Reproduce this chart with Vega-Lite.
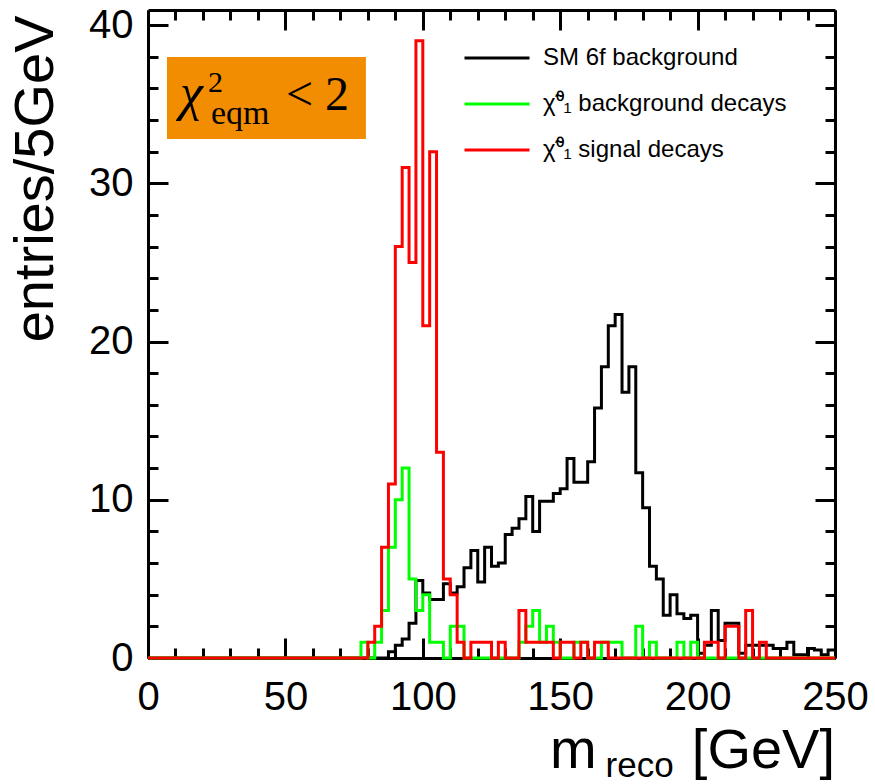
{
  "$schema": "https://vega.github.io/schema/vega-lite/v6.json",
  "width": 687,
  "height": 648,
  "autosize": "none",
  "padding": {"left": 148, "top": 10, "right": 40, "bottom": 126},
  "background": "white",
  "config": {"view": {"stroke": null}, "font": "Liberation Sans"},
  "resolve": {"axis": {"x": "independent", "y": "independent"}},
  "layer": [
    {
      "data": {"values": [{}]},
      "mark": {"type": "rect", "color": "#F28C00"},
      "encoding": {
        "x": {"datum": 6.9, "type": "quantitative",
          "axis": {"orient": "top", "values": [0,10,20,30,40,50,60,70,80,90,100,110,120,130,140,150,160,170,180,190,200,210,220,230,240,250],
            "labels": false, "title": null, "grid": false, "domainWidth": 3, "domainColor": "black", "tickWidth": 3, "tickColor": "black",
            "tickSize": {"condition": {"test": "datum.value % 50 === 0", "value": -20}, "value": -10}}},
        "x2": {"datum": 79.3},
        "y": {"datum": 37.98, "type": "quantitative",
          "axis": {"orient": "right", "values": [0,2,4,6,8,10,12,14,16,18,20,22,24,26,28,30,32,34,36,38,40],
            "labels": false, "title": null, "grid": false, "domainWidth": 3, "domainColor": "black", "tickWidth": 3, "tickColor": "black",
            "tickSize": {"condition": {"test": "datum.value % 10 === 0", "value": -20}, "value": -10}}},
        "y2": {"datum": 32.8}
      }
    },
    {
      "data": {"values": [{}]},
      "mark": {"type": "text", "text": "χ", "font": "Liberation Serif", "fontStyle": "italic", "fontSize": 52, "align": "left", "baseline": "alphabetic", "color": "black"},
      "encoding": {"x": {"datum": 11.6, "type": "quantitative", "axis": null}, "y": {"datum": 34.63, "type": "quantitative", "axis": null}}
    },
    {
      "data": {"values": [{}]},
      "mark": {"type": "text", "text": "2", "font": "Liberation Serif", "fontSize": 30, "align": "left", "baseline": "alphabetic", "color": "black"},
      "encoding": {"x": {"datum": 21.8, "type": "quantitative", "axis": null}, "y": {"datum": 35.77, "type": "quantitative", "axis": null}}
    },
    {
      "data": {"values": [{}]},
      "mark": {"type": "text", "text": "eqm", "font": "Liberation Serif", "fontSize": 34, "align": "left", "baseline": "alphabetic", "color": "black"},
      "encoding": {"x": {"datum": 22.9, "type": "quantitative", "axis": null}, "y": {"datum": 33.75, "type": "quantitative", "axis": null}}
    },
    {
      "data": {"values": [{}]},
      "mark": {"type": "text", "text": "< 2", "font": "Liberation Serif", "fontSize": 48, "align": "left", "baseline": "alphabetic", "color": "black"},
      "encoding": {"x": {"datum": 50.2, "type": "quantitative", "axis": null}, "y": {"datum": 34.63, "type": "quantitative", "axis": null}}
    },
    {
      "data": {"values": [
        {"m":0,"sm":0,"bg":0,"sig":0},{"m":2.5,"sm":0,"bg":0,"sig":0},{"m":5,"sm":0,"bg":0,"sig":0},{"m":7.5,"sm":0,"bg":0,"sig":0},
        {"m":10,"sm":0,"bg":0,"sig":0},{"m":12.5,"sm":0,"bg":0,"sig":0},{"m":15,"sm":0,"bg":0,"sig":0},{"m":17.5,"sm":0,"bg":0,"sig":0},
        {"m":20,"sm":0,"bg":0,"sig":0},{"m":22.5,"sm":0,"bg":0,"sig":0},{"m":25,"sm":0,"bg":0,"sig":0},{"m":27.5,"sm":0,"bg":0,"sig":0},
        {"m":30,"sm":0,"bg":0,"sig":0},{"m":32.5,"sm":0,"bg":0,"sig":0},{"m":35,"sm":0,"bg":0,"sig":0},{"m":37.5,"sm":0,"bg":0,"sig":0},
        {"m":40,"sm":0,"bg":0,"sig":0},{"m":42.5,"sm":0,"bg":0,"sig":0},{"m":45,"sm":0,"bg":0,"sig":0},{"m":47.5,"sm":0,"bg":0,"sig":0},
        {"m":50,"sm":0,"bg":0,"sig":0},{"m":52.5,"sm":0,"bg":0,"sig":0},{"m":55,"sm":0,"bg":0,"sig":0},{"m":57.5,"sm":0,"bg":0,"sig":0},
        {"m":60,"sm":0,"bg":0,"sig":0},{"m":62.5,"sm":0,"bg":0,"sig":0},{"m":65,"sm":0,"bg":0,"sig":0},{"m":67.5,"sm":0,"bg":0,"sig":0},
        {"m":70,"sm":0,"bg":0,"sig":0},{"m":72.5,"sm":0,"bg":0,"sig":0},{"m":75,"sm":0,"bg":0,"sig":0},{"m":77.5,"sm":0,"bg":1,"sig":0},
        {"m":80,"sm":0,"bg":0,"sig":1},{"m":82.5,"sm":0,"bg":1,"sig":2},{"m":85,"sm":0,"bg":3,"sig":7},{"m":87.5,"sm":0.4,"bg":7,"sig":11},
        {"m":90,"sm":0.8,"bg":10,"sig":26},{"m":92.5,"sm":1.2,"bg":12,"sig":31},{"m":95,"sm":2.2,"bg":5,"sig":25},{"m":97.5,"sm":4.9,"bg":3,"sig":39},
        {"m":100,"sm":4.1,"bg":4,"sig":21},{"m":102.5,"sm":3.7,"bg":1,"sig":32},{"m":105,"sm":3.7,"bg":1,"sig":13},{"m":107.5,"sm":4.7,"bg":0,"sig":5},
        {"m":110,"sm":4.1,"bg":2,"sig":4},{"m":112.5,"sm":4.5,"bg":2,"sig":1},{"m":115,"sm":5.7,"bg":0,"sig":0},{"m":117.5,"sm":6.8,"bg":0,"sig":1},
        {"m":120,"sm":4.8,"bg":0,"sig":1},{"m":122.5,"sm":7.0,"bg":0,"sig":1},{"m":125,"sm":5.8,"bg":0,"sig":0},{"m":127.5,"sm":6.0,"bg":0,"sig":1},
        {"m":130,"sm":7.8,"bg":0,"sig":0},{"m":132.5,"sm":8.2,"bg":0,"sig":0},{"m":135,"sm":8.8,"bg":1,"sig":3},{"m":137.5,"sm":10.2,"bg":2,"sig":1},
        {"m":140,"sm":8.0,"bg":3,"sig":1},{"m":142.5,"sm":9.9,"bg":1,"sig":1},{"m":145,"sm":9.9,"bg":2,"sig":1},{"m":147.5,"sm":10.4,"bg":1,"sig":0},
        {"m":150,"sm":10.7,"bg":0,"sig":1},{"m":152.5,"sm":12.6,"bg":0,"sig":1},{"m":155,"sm":11.1,"bg":1,"sig":0},{"m":157.5,"sm":11.1,"bg":1,"sig":1},
        {"m":160,"sm":12.4,"bg":0,"sig":0},{"m":162.5,"sm":15.8,"bg":0,"sig":1},{"m":165,"sm":18.4,"bg":1,"sig":1},{"m":167.5,"sm":21.0,"bg":1,"sig":0},
        {"m":170,"sm":21.7,"bg":1,"sig":0},{"m":172.5,"sm":16.8,"bg":0,"sig":0},{"m":175,"sm":18.4,"bg":0,"sig":0},{"m":177.5,"sm":11.7,"bg":2,"sig":0},
        {"m":180,"sm":9.5,"bg":0,"sig":0},{"m":182.5,"sm":5.8,"bg":1,"sig":0},{"m":185,"sm":5.0,"bg":0,"sig":0},{"m":187.5,"sm":2.7,"bg":0,"sig":0},
        {"m":190,"sm":4.0,"bg":0,"sig":0},{"m":192.5,"sm":2.8,"bg":1,"sig":0},{"m":195,"sm":2.5,"bg":0,"sig":0},{"m":197.5,"sm":2.7,"bg":1,"sig":0},
        {"m":200,"sm":0.3,"bg":0,"sig":0},{"m":202.5,"sm":0.8,"bg":0,"sig":1},{"m":205,"sm":3.0,"bg":0,"sig":1},{"m":207.5,"sm":1.1,"bg":0,"sig":0},
        {"m":210,"sm":2.2,"bg":0,"sig":2},{"m":212.5,"sm":2.2,"bg":0,"sig":2},{"m":215,"sm":0.3,"bg":0,"sig":0},{"m":217.5,"sm":0.8,"bg":0,"sig":3},
        {"m":220,"sm":0.8,"bg":0,"sig":0},{"m":222.5,"sm":0.8,"bg":0,"sig":1},{"m":225,"sm":0.8,"bg":0,"sig":0},{"m":227.5,"sm":0.6,"bg":0,"sig":0},
        {"m":230,"sm":0.6,"bg":0,"sig":0},{"m":232.5,"sm":1.0,"bg":0,"sig":0},{"m":235,"sm":0.2,"bg":0,"sig":0},{"m":237.5,"sm":0.2,"bg":0,"sig":0},
        {"m":240,"sm":0.6,"bg":0,"sig":0},{"m":242.5,"sm":0.5,"bg":0,"sig":0},{"m":245,"sm":0.2,"bg":0,"sig":0},{"m":247.5,"sm":0.5,"bg":0,"sig":0},
        {"m":250,"sm":0.5,"bg":0,"sig":0}
      ]},
      "transform": [{"fold": ["sm", "bg", "sig"], "as": ["series", "n"]}],
      "mark": {"type": "line", "interpolate": "step-after", "strokeWidth": 3},
      "encoding": {
        "x": {"field": "m", "type": "quantitative",
          "scale": {"domain": [0, 250], "nice": false, "zero": false},
          "axis": {"orient": "bottom", "values": [0,10,20,30,40,50,60,70,80,90,100,110,120,130,140,150,160,170,180,190,200,210,220,230,240,250],
            "labelExpr": "datum.value % 50 === 0 ? datum.label : ''",
            "tickSize": {"condition": {"test": "datum.value % 50 === 0", "value": -20}, "value": -10},
            "tickWidth": 3, "tickColor": "black", "domainWidth": 3, "domainColor": "black", "grid": false,
            "labelFont": "Liberation Sans", "labelFontSize": 40, "labelColor": "black", "labelPadding": 39,
            "labelOverlap": false, "labelFlush": false, "title": null}},
        "y": {"field": "n", "type": "quantitative",
          "scale": {"domain": [0, 40.95], "nice": false, "zero": false},
          "axis": {"orient": "left", "values": [0,2,4,6,8,10,12,14,16,18,20,22,24,26,28,30,32,34,36,38,40],
            "labelExpr": "datum.value % 10 === 0 ? datum.label : ''",
            "tickSize": {"condition": {"test": "datum.value % 10 === 0", "value": -20}, "value": -10},
            "tickWidth": 3, "tickColor": "black", "domainWidth": 3, "domainColor": "black", "grid": false,
            "labelFont": "Liberation Sans", "labelFontSize": 40, "labelColor": "black", "labelPadding": 35,
            "labelOverlap": false, "labelFlush": false,
            "title": "entries/5GeV", "titleFont": "Liberation Sans", "titleFontSize": 56, "titleFontWeight": "normal", "titleColor": "black",
            "titleAngle": -90, "titleX": -96, "titleY": 5, "titleAlign": "right", "titleBaseline": "alphabetic"}},
        "color": {"field": "series", "type": "nominal",
          "scale": {"domain": ["sm", "bg", "sig"], "range": ["#000000", "#00FF00", "#FF0000"]},
          "legend": {"orient": "none", "legendX": 315, "legendY": 14, "title": null, "padding": 0,
            "symbolType": "stroke", "symbolStrokeWidth": 3, "symbolSize": 4225,
            "labelFont": "Liberation Sans", "labelFontSize": 24, "labelColor": "black", "labelOffset": 12, "rowPadding": 0,
            "labelLimit": 400,
            "labelExpr": "datum.value == 'sm' ? 'SM 6f background' : datum.value == 'bg' ? 'χ̃⁰₁ background decays' : 'χ̃⁰₁ signal decays'"}}
      }
    },
    {
      "data": {"values": [{}]},
      "mark": {"type": "text", "text": "m", "fontSize": 56, "align": "left", "baseline": "alphabetic", "color": "black"},
      "encoding": {"x": {"datum": 146.3, "type": "quantitative", "axis": null}, "y": {"datum": -6.95, "type": "quantitative", "axis": null}}
    },
    {
      "data": {"values": [{}]},
      "mark": {"type": "text", "text": "reco", "fontSize": 35, "align": "left", "baseline": "alphabetic", "color": "black"},
      "encoding": {"x": {"datum": 166.5, "type": "quantitative", "axis": null}, "y": {"datum": -7.55, "type": "quantitative", "axis": null}}
    },
    {
      "data": {"values": [{}]},
      "mark": {"type": "text", "text": "[GeV]", "fontSize": 56, "align": "right", "baseline": "alphabetic", "color": "black"},
      "encoding": {"x": {"datum": 250, "type": "quantitative", "axis": null}, "y": {"datum": -6.95, "type": "quantitative", "axis": null}}
    }
  ]
}
